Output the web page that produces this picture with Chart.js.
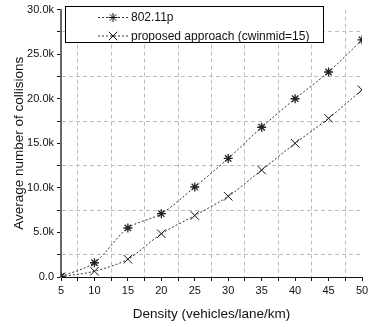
<!DOCTYPE html>
<html>
<head>
<meta charset="utf-8">
<script src="https://cdn.jsdelivr.net/npm/chart.js@4/dist/chart.umd.min.js"></script>
<style>
  html, body { margin: 0; padding: 0; background: #fff; }
  canvas { display: block; }
</style>
</head>
<body>
<canvas id="chart" width="375" height="327"></canvas>
<script>
const density = [5, 10, 15, 20, 25, 30, 35, 40, 45, 50];
const collisions80211p = [60, 1600, 5500, 7100, 10100, 13300, 16800, 20000, 23000, 26600];
const collisionsProposed = [30, 650, 2000, 4850, 6900, 9050, 12000, 15000, 17800, 21000];
const seriesNames = ['802.11p', 'proposed approach (cwinmid=15)'];
const xTitle = 'Density (vehicles/lane/km)';
const yTitle = 'Average number of collisions';

const FONT = '"Liberation Sans", Arial, sans-serif';

const toPoints = (ys) => density.map((x, i) => ({ x: x, y: ys[i] }));

// minor grid lines only (odd multiples of the half step), like the original
const minorGrid = (ctx) => (ctx.index % 2 === 1 ? '#bdbdbd' : 'rgba(0,0,0,0)');

// legend box drawn inside the plot, top left
const boxLegend = {
  id: 'boxLegend',
  afterDatasetsDraw(chart) {
    const ctx = chart.ctx;
    const x0 = 65, y0 = 6, x1 = 324, y1 = 43;
    ctx.save();
    ctx.fillStyle = '#fff';
    ctx.fillRect(x0, y0, x1 - x0, y1 - y0);
    ctx.strokeStyle = '#000';
    ctx.lineWidth = 1;
    ctx.strokeRect(x0 + 0.5, y0 + 0.5, x1 - x0 - 1, y1 - y0 - 1);
    chart.data.datasets.forEach((ds, i) => {
      const y = 17 + i * 18.5;
      ctx.strokeStyle = '#333';
      ctx.setLineDash([2, 2]);
      ctx.beginPath();
      ctx.moveTo(98, y + 0.5);
      ctx.lineTo(128, y + 0.5);
      ctx.stroke();
      ctx.setLineDash([]);
      ctx.strokeStyle = '#111';
      Chart.helpers.drawPoint(ctx, {
        pointStyle: ds.pointStyle,
        radius: ds.pointRadius,
        rotation: 0,
        borderWidth: ds.pointBorderWidth
      }, 113, y + 0.5);
      ctx.fillStyle = '#111';
      ctx.font = '12px ' + FONT;
      ctx.textBaseline = 'middle';
      ctx.textAlign = 'left';
      ctx.fillText(ds.label, 131, y + 1);
    });
    ctx.restore();
  }
};

new Chart(document.getElementById('chart'), {
  type: 'line',
  data: {
    datasets: [
      {
        label: seriesNames[0],
        data: toPoints(collisions80211p),
        borderColor: '#333',
        borderWidth: 1,
        borderDash: [2, 2],
        tension: 0.3,
        pointStyle: 'star',
        pointRadius: 4.5,
        pointBorderWidth: 1.3,
        pointBorderColor: '#222',
        pointBackgroundColor: '#222'
      },
      {
        label: seriesNames[1],
        data: toPoints(collisionsProposed),
        borderColor: '#333',
        borderWidth: 1,
        borderDash: [2, 2],
        tension: 0.3,
        pointStyle: 'crossRot',
        pointRadius: 6,
        pointBorderWidth: 1,
        pointBorderColor: '#111',
        pointBackgroundColor: '#111'
      }
    ]
  },
  options: {
    responsive: false,
    devicePixelRatio: 1,
    animation: false,
    layout: { padding: { top: 7, right: 13, left: 0, bottom: 0 } },
    plugins: {
      legend: { display: false },
      tooltip: { enabled: false }
    },
    scales: {
      x: {
        type: 'linear',
        min: 5,
        max: 50,
        afterFit(scale) { scale.height = 50; },
        ticks: {
          stepSize: 2.5,
          autoSkip: false,
          maxRotation: 0,
          padding: 3,
          color: '#111',
          font: { family: FONT, size: 11 },
          callback: (v) => (v % 5 === 0 ? String(v) : '')
        },
        grid: {
          color: minorGrid,
          lineWidth: 1,
          tickLength: 4,
          tickColor: '#111'
        },
        border: { display: true, color: '#111', width: 1, dash: [4, 3] },
        title: {
          display: true,
          text: xTitle,
          color: '#111',
          font: { family: FONT, size: 13.5 },
          padding: { top: 0, bottom: 5 }
        }
      },
      y: {
        min: 0,
        max: 30000,
        afterFit(scale) { scale.width = 61; },
        ticks: {
          stepSize: 2500,
          autoSkip: false,
          padding: 3,
          color: '#111',
          font: { family: FONT, size: 11 },
          callback: (v) => {
            if (v % 5000 !== 0) return '';
            return v === 0 ? '0.0' : (v / 1000).toFixed(1) + 'k';
          }
        },
        grid: {
          color: minorGrid,
          lineWidth: 1,
          tickLength: 4,
          tickColor: '#111'
        },
        border: { display: true, color: '#666', width: 2, dash: [4, 3] },
        title: {
          display: true,
          text: yTitle,
          color: '#111',
          font: { family: FONT, size: 13.5 },
          padding: { top: 11, bottom: 0 }
        }
      }
    }
  },
  plugins: [boxLegend]
});
</script>
</body>
</html>
